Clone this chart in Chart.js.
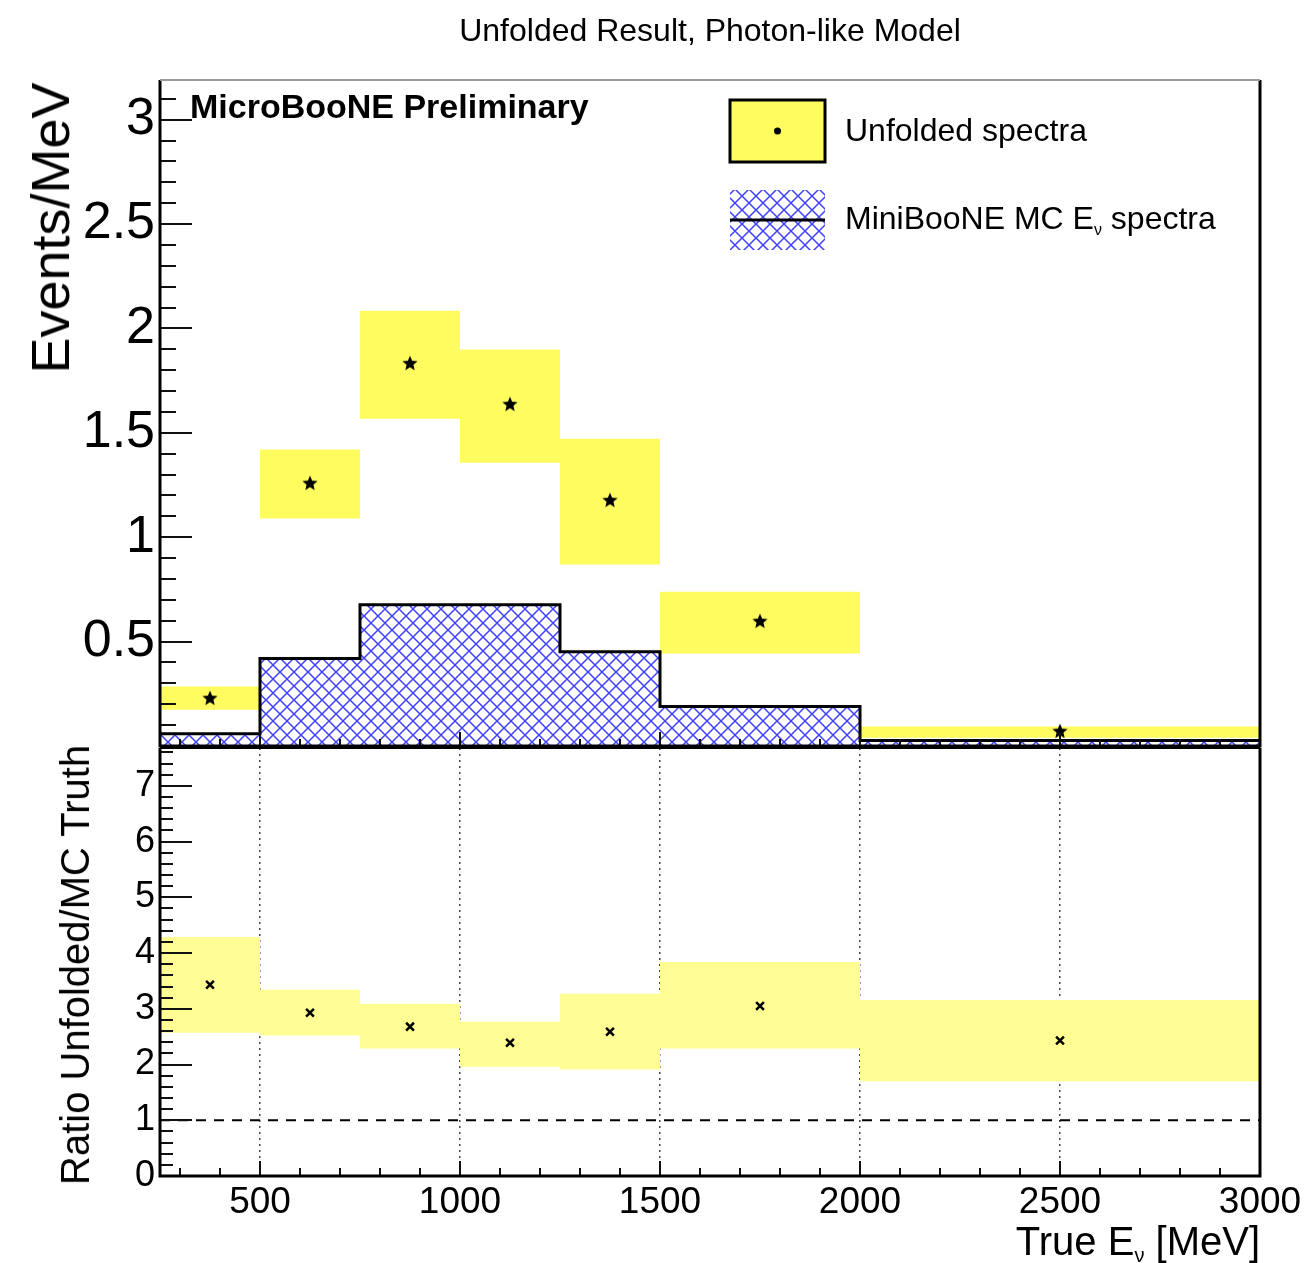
<!DOCTYPE html>
<html>
<head>
<meta charset="utf-8">
<script src="https://cdn.jsdelivr.net/npm/chart.js@4.4.1/dist/chart.umd.min.js"></script>
<style>
  body { margin: 0; background: #fff; }
  #wrap { position: relative; width: 1316px; height: 1263px; overflow: hidden; font-family: "Liberation Sans", Arial, sans-serif; color: #000; }
  .box { position: absolute; }
  .txt { position: absolute; white-space: nowrap; line-height: 1; }
  .c { transform: translate(-50%, -50%); }
  .l { transform: translate(0, -50%); }
  .rot { transform: translate(-50%, -50%) rotate(-90deg); }
  sub { font-size: 0.5em; vertical-align: -0.35em; line-height: 0; }
</style>
</head>
<body>
<div id="wrap">
  <div class="box" style="left:0;top:0;width:1316px;height:760px"><canvas id="topChart"></canvas></div>
  <div class="box" style="left:0;top:740px;width:1316px;height:523px"><canvas id="ratioChart"></canvas></div>

  <div class="txt c" style="left:710px;top:30px;font-size:32px">Unfolded Result, Photon-like Model</div>
  <div class="txt l" style="left:190px;top:106px;font-size:34px;font-weight:bold">MicroBooNE Preliminary</div>
  <div class="txt l" style="left:845px;top:130px;font-size:32px">Unfolded spectra</div>
  <div class="txt l" style="left:845px;top:218px;font-size:32px">MiniBooNE MC E<sub>ν</sub> spectra</div>
  <div class="txt rot" style="left:50px;top:228px;font-size:54px">Events/MeV</div>
  <div class="txt rot" style="left:75px;top:965px;font-size:40px">Ratio Unfolded/MC Truth</div>
  <div class="txt" style="right:56px;top:1221px;font-size:40px">True E<sub>ν</sub> [MeV]</div>
</div>

<script>
// bins in true neutrino energy (MeV)
const binEdges = [250, 500, 750, 1000, 1250, 1500, 2000, 3000];
const binCenters = [375, 625, 875, 1125, 1375, 1750, 2500];

// top panel: unfolded spectrum with error band, MC truth
const unfolded = [0.227, 1.257, 1.831, 1.635, 1.175, 0.596, 0.069];
const unfoldedHi = [0.285, 1.42, 2.085, 1.899, 1.472, 0.739, 0.093];
const unfoldedLo = [0.174, 1.09, 1.568, 1.357, 0.869, 0.443, 0.04];
const mcTruth = [0.059, 0.419, 0.677, 0.677, 0.452, 0.189, 0.026];

// bottom panel: ratio unfolded / MC truth
const ratio = [3.43, 2.93, 2.68, 2.39, 2.59, 3.05, 2.43];
const ratioHi = [4.29, 3.34, 3.09, 2.77, 3.27, 3.84, 3.16];
const ratioLo = [2.57, 2.52, 2.29, 1.96, 1.91, 2.29, 1.70];
const unityX = [250, 3000];
const unityY = [1, 1];

// axis ticks
const xTicks = [500, 1000, 1500, 2000, 2500, 3000];
const topYTicks = [0.5, 1, 1.5, 2, 2.5, 3];
const ratioYTicks = [0, 1, 2, 3, 4, 5, 6, 7];

const yellowTop = '#fffc60';
const yellowRatio = '#fffd94';

Chart.defaults.font.family = '"Liberation Sans", Arial, sans-serif';
Chart.defaults.color = '#000';

// histogram as step points: value of bin i held from edge i to edge i+1
function steps(vals) {
  const pts = vals.map((v, i) => ({ x: binEdges[i], y: v }));
  pts.push({ x: binEdges[binEdges.length - 1], y: vals[vals.length - 1] });
  return pts;
}
function points(xs, ys) {
  return xs.map((x, i) => ({ x, y: ys[i] }));
}

function makeHatch() {
  const c = document.createElement('canvas');
  c.width = 14; c.height = 14;
  const g = c.getContext('2d');
  g.strokeStyle = '#4040ff';
  g.lineWidth = 1.5;
  g.beginPath();
  g.moveTo(-2, -2); g.lineTo(16, 16);
  g.moveTo(16, -2); g.lineTo(-2, 16);
  g.stroke();
  return g.createPattern(c, 'repeat');
}
const hatch = makeHatch();

function makeStar(r) {
  const c = document.createElement('canvas');
  const s = 2 * r + 2;
  c.width = s; c.height = s;
  const g = c.getContext('2d');
  g.fillStyle = '#000';
  g.beginPath();
  for (let i = 0; i < 10; i++) {
    const rad = i % 2 ? r * 0.45 : r;
    const ang = -Math.PI / 2 + i * Math.PI / 5;
    g.lineTo(s / 2 + rad * Math.cos(ang), s / 2 + rad * Math.sin(ang));
  }
  g.closePath();
  g.fill();
  return c;
}
const star = makeStar(8);

// vertical axes: no label overflow padding, so the plot frames sit where ROOT puts them
function fixY(s) {
  s.width = 160;
  s.paddingTop = 0;
  s.paddingBottom = 0;
}

// ROOT-like frame with inner major/minor ticks, plus legend swatches
const rootFrame = {
  id: 'rootFrame',
  afterDraw(chart, args, o) {
    const { ctx, chartArea: a } = chart;
    const x = chart.scales.x, y = chart.scales.y;
    ctx.save();
    ctx.strokeStyle = '#111';
    ctx.lineWidth = 2;
    for (let n = Math.ceil(y.min / o.yStep - 1e-6); n * o.yStep <= y.max + 1e-6; n++) {
      const py = Math.round(y.getPixelForValue(n * o.yStep));
      const len = n % o.yMajor === 0 ? o.yMajLen : o.yMinLen;
      ctx.beginPath(); ctx.moveTo(a.left, py); ctx.lineTo(a.left + len, py); ctx.stroke();
    }
    for (let n = Math.ceil(x.min / o.xStep - 1e-6); n * o.xStep <= x.max + 1e-6; n++) {
      const px = Math.round(x.getPixelForValue(n * o.xStep));
      const len = n % o.xMajor === 0 ? o.xMajLen : o.xMinLen;
      ctx.beginPath(); ctx.moveTo(px, a.bottom); ctx.lineTo(px, a.bottom - len); ctx.stroke();
    }
    ctx.lineWidth = 3;
    ctx.strokeStyle = '#000';
    ctx.beginPath();
    ctx.moveTo(a.right, a.top); ctx.lineTo(a.right, a.bottom);
    ctx.lineTo(a.left, a.bottom); ctx.lineTo(a.left, a.top);
    ctx.stroke();
    ctx.strokeStyle = o.topEdge;
    ctx.lineWidth = 2;
    ctx.beginPath(); ctx.moveTo(a.left, a.top); ctx.lineTo(a.right, a.top); ctx.stroke();

    if (o.legend) {
      const lx = a.left + 570, w = 95;
      const ly = a.top + 20, h = 62;
      ctx.fillStyle = yellowTop;
      ctx.fillRect(lx, ly, w, h);
      ctx.lineWidth = 3;
      ctx.strokeStyle = '#000';
      ctx.strokeRect(lx, ly, w, h);
      ctx.fillStyle = '#000';
      ctx.beginPath(); ctx.arc(lx + w / 2, ly + h / 2, 3.5, 0, 2 * Math.PI); ctx.fill();
      const hy = a.top + 110;
      ctx.fillStyle = hatch;
      ctx.fillRect(lx, hy, w, 60);
      ctx.beginPath(); ctx.moveTo(lx, hy + 30); ctx.lineTo(lx + w, hy + 30); ctx.stroke();
    }
    ctx.restore();
  }
};

const fmt = v => String(v);

new Chart(document.getElementById('topChart'), {
  type: 'line',
  data: {
    datasets: [
      { label: 'Unfolded spectra', data: points(binCenters, unfolded), showLine: false,
        pointStyle: star, pointRadius: 8 },
      { label: 'MiniBooNE MC', data: steps(mcTruth), stepped: 'before', borderColor: '#000',
        borderWidth: 3, pointRadius: 0, fill: 'origin', backgroundColor: hatch },
      { label: 'hi', data: steps(unfoldedHi), stepped: 'before', borderWidth: 0, pointRadius: 0,
        fill: '+1', backgroundColor: yellowTop },
      { label: 'lo', data: steps(unfoldedLo), stepped: 'before', borderWidth: 0, pointRadius: 0 }
    ]
  },
  options: {
    responsive: true,
    maintainAspectRatio: false,
    animation: false,
    events: [],
    layout: { padding: { left: 0, top: 80, right: 56, bottom: 14 } },
    plugins: {
      legend: { display: false },
      tooltip: { enabled: false },
      rootFrame: { yStep: 0.1, yMajor: 5, yMajLen: 32, yMinLen: 16,
                   xStep: 100, xMajor: 5, xMajLen: 14, xMinLen: 7, legend: true, topEdge: '#9a9a9a' }
    },
    scales: {
      x: { type: 'linear', min: 250, max: 3000, display: false },
      y: {
        min: 0, max: 3.19,
        afterFit: fixY,
        afterBuildTicks: s => { s.ticks = topYTicks.map(v => ({ value: v })); },
        grid: { display: false, drawTicks: false },
        border: { display: false },
        ticks: { callback: fmt, font: { size: 52 }, padding: 5, autoSkip: false }
      }
    }
  },
  plugins: [rootFrame]
});

new Chart(document.getElementById('ratioChart'), {
  type: 'line',
  data: {
    datasets: [
      { label: 'ratio', data: points(binCenters, ratio), showLine: false,
        pointStyle: 'crossRot', pointRadius: 5.5, pointBorderWidth: 2.5, pointBorderColor: '#000' },
      { label: 'unity', data: points(unityX, unityY), borderColor: '#000', borderWidth: 2,
        borderDash: [10, 8], pointRadius: 0 },
      { label: 'hi', data: steps(ratioHi), stepped: 'before', borderWidth: 0, pointRadius: 0,
        fill: '+1', backgroundColor: yellowRatio },
      { label: 'lo', data: steps(ratioLo), stepped: 'before', borderWidth: 0, pointRadius: 0 }
    ]
  },
  options: {
    responsive: true,
    maintainAspectRatio: false,
    animation: false,
    events: [],
    layout: { padding: { left: 0, top: 6, right: 56, bottom: 0 } },
    plugins: {
      legend: { display: false },
      tooltip: { enabled: false },
      rootFrame: { yStep: 0.2, yMajor: 5, yMajLen: 32, yMinLen: 13,
                   xStep: 100, xMajor: 5, xMajLen: 15, xMinLen: 8, legend: false, topEdge: '#000' }
    },
    scales: {
      x: {
        type: 'linear', min: 250, max: 3000,
        afterFit: s => { s.height = 87; s.paddingLeft = 0; s.paddingRight = 0; },
        afterBuildTicks: s => { s.ticks = xTicks.map(v => ({ value: v })); },
        grid: { color: '#444', lineWidth: 1.5, drawTicks: false },
        border: { display: false, dash: [2, 4] },
        ticks: { callback: fmt, font: { size: 37 }, padding: 5, maxRotation: 0, autoSkip: false }
      },
      y: {
        min: 0, max: 7.68,
        afterFit: fixY,
        afterBuildTicks: s => { s.ticks = ratioYTicks.map(v => ({ value: v })); },
        grid: { display: false, drawTicks: false },
        border: { display: false },
        ticks: { callback: fmt, font: { size: 36 }, padding: 5, autoSkip: false }
      }
    }
  },
  plugins: [rootFrame]
});
</script>
</body>
</html>
